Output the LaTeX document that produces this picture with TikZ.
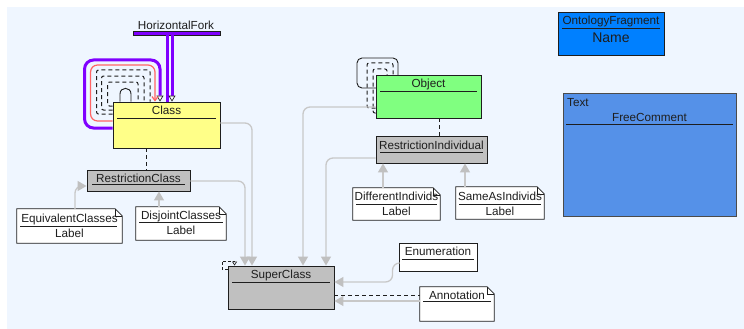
\documentclass[tikz,border=0pt]{standalone}
\usepackage{fontspec}
\setmainfont{Liberation Sans}
\usetikzlibrary{arrows.meta,backgrounds}

\definecolor{canvas}{RGB}{239,246,255}
\definecolor{classyellow}{RGB}{255,255,136}
\definecolor{objgreen}{RGB}{128,255,128}
\definecolor{restrgray}{RGB}{192,192,192}
\definecolor{edgegray}{RGB}{200,200,200}
\definecolor{fragblue}{RGB}{0,128,255}
\definecolor{commentblue}{RGB}{85,145,232}
\definecolor{forkpurple}{RGB}{128,0,255}
\definecolor{loopred}{RGB}{255,100,100}
\definecolor{ink}{RGB}{30,30,30}

\newcommand\dfont{\fontsize{11.7pt}{13pt}\selectfont}
\newcommand\bigfont{\fontsize{14pt}{16pt}\selectfont}

\tikzset{
  umlbox/.style={draw=ink, line width=0.9pt, inner sep=0pt},
  notebox/.style={draw=none, inner sep=0pt},
  lbl/.style={font=\dfont, text=ink, inner sep=0pt},
  hdr/.style={draw=ink, line width=0.8pt},
  conn/.style={draw=edgegray, line width=1.3pt, rounded corners=7pt,
    -{Triangle[width=10pt,length=9pt,color=restrgray]}},
  depline/.style={draw=ink, line width=0.9pt, dash pattern=on 4pt off 3pt},
  loopdash/.style={draw=ink, line width=1pt, dash pattern=on 4pt off 3pt, rounded corners=2pt},
  forkline/.style={draw=forkpurple, line width=3pt},
  opentip/.style={-{Triangle[width=7pt,length=6pt,color=ink,fill=white,line width=0.7pt]}},
}

% note outline with a folded top-right corner
\newcommand\notebody[1]{%
  \draw[ink, line width=0.8pt, fill=white]
    (#1.north west) -- ([xshift=-7pt]#1.north east) -- ([yshift=-7pt]#1.north east)
    -- (#1.south east) -- (#1.south west) -- cycle;
  \draw[ink, line width=0.6pt]
    ([xshift=-7pt]#1.north east) -- ([xshift=-7pt,yshift=-7pt]#1.north east)
    -- ([yshift=-7pt]#1.north east);
}

\begin{document}
\begin{tikzpicture}[x=1pt,y=-1pt]
\useasboundingbox (0,0) rectangle (744,329);

% ---- class boxes ----
\node[umlbox, fill=classyellow, minimum width=107pt, minimum height=46pt] (class) at (166.5,125) {};
\node[lbl] (classT) at (166.5,110) {Class};
\draw[hdr] (117,118) -- (216,118);

\node[umlbox, fill=restrgray, minimum width=103pt, minimum height=21pt] (rc) at (138.5,180.5) {};
\node[lbl] (rcT) at (138.5,178.5) {RestrictionClass};
\draw[hdr] (92,184.5) -- (185,184.5);

\node[umlbox, fill=restrgray, minimum width=106pt, minimum height=43pt] (super) at (281,287.5) {};
\node[lbl] (superT) at (281,275) {SuperClass};
\draw[hdr] (232,282) -- (330,282);

\node[umlbox, fill=objgreen, minimum width=105pt, minimum height=43pt] (object) at (428.5,96.5) {};
\node[lbl] (objectT) at (428.5,84) {Object};
\draw[hdr] (380,91) -- (477,91);

\node[umlbox, fill=restrgray, minimum width=111pt, minimum height=27pt] (ri) at (431.5,149.5) {};
\node[lbl] (riT) at (431.5,145.5) {RestrictionIndividual};
\draw[hdr] (380,152.5) -- (483,152.5);

% ---- notes ----
\node[notebox, minimum width=105pt, minimum height=34pt] (equiv) at (69.5,226) {};
\notebody{equiv}
\node[lbl] (equivT) at (69.5,219.3) {EquivalentClasses};
\draw[hdr] (20,226) -- (117,226);
\node[lbl] (equivL) at (69.5,233.5) {Label};

\node[notebox, minimum width=90pt, minimum height=33pt] (disj) at (181,223.5) {};
\notebody{disj}
\node[lbl] (disjT) at (181,216) {DisjointClasses};
\draw[hdr] (139,222.7) -- (223,222.7);
\node[lbl] (disjL) at (181,230.5) {Label};

\node[notebox, minimum width=87pt, minimum height=32pt] (diff) at (396.5,204) {};
\notebody{diff}
\node[lbl] (diffT) at (396.5,196.7) {DifferentIndivids};
\draw[hdr] (356,204.3) -- (437,204.3);
\node[lbl] (diffL) at (396.5,211.5) {Label};

\node[notebox, minimum width=88pt, minimum height=32pt] (same) at (500,203) {};
\notebody{same}
\node[lbl] (sameT) at (500,196.5) {SameAsIndivids};
\draw[hdr] (459,204) -- (541,204);
\node[lbl] (sameL) at (500,211) {Label};

\node[umlbox, fill=white, minimum width=78pt, minimum height=28pt] (enum) at (438,257) {};
\node[lbl] (enumT) at (438,251.7) {Enumeration};
\draw[hdr] (402,259) -- (474,259);

\node[notebox, minimum width=74pt, minimum height=34pt] (annot) at (457,304) {};
\notebody{annot}
\node[lbl] (annotT) at (457,295.7) {Annotation};
\draw[hdr] (423,301.7) -- (491,301.7);

% ---- fragment name and free comment ----
\node[umlbox, fill=fragblue, minimum width=106pt, minimum height=43pt] (frag) at (611,33.5) {};
\node[lbl] (fragT) at (611,21) {OntologyFragment};
\draw[hdr] (562,28) -- (660,28);
\node[lbl, font=\bigfont] (fragN) at (611,37.5) {Name};

\node[umlbox, fill=commentblue, draw=ink!80, minimum width=173pt, minimum height=123pt] (comment) at (649.5,154.5) {};
\node[lbl, anchor=west] (commentK) at (567,103) {Text};
\node[lbl] (commentT) at (649.5,117) {FreeComment};
\draw[hdr] (566,124.5) -- (733,124.5);

% ---- horizontal fork ----
\node[lbl] (forkT) at (176,25.5) {HorizontalFork};
\node[draw=ink, line width=0.6pt, fill=forkpurple, inner sep=0pt,
      minimum width=87pt, minimum height=4pt] (forkbar) at (176.5,33) {};
\draw[forkline] ([xshift=-9.5pt]forkbar.south) -- ([xshift=-9.5pt]forkbar.south |- class.north);
\draw[forkline, opentip] ([xshift=-4.5pt]forkbar.south) -- ([xshift=-4.5pt]forkbar.south |- class.north);

% ---- generalisation connectors ----
\draw[conn] ([yshift=2pt]class.east) -| ([xshift=-29pt]super.north);
\draw[conn] ([yshift=-0.5pt]rc.east) -| ([xshift=-36pt]super.north);
\draw[conn] ([yshift=-10.5pt]object.west) -| ([xshift=22pt]super.north);
\draw[conn] ([yshift=-8.5pt]ri.west) -| ([xshift=45pt]super.north);
\draw[conn] ([yshift=-6pt]enum.west) -- ++(-6,0) |- ([yshift=5.5pt]super.east);
\draw[conn] ([yshift=3pt]annot.west) -- ([yshift=3pt]annot.west -| super.east);
\draw[conn] ([xshift=5.5pt]equiv.north) |- ([yshift=-5.5pt]rc.west);
\draw[conn] ([xshift=-22pt]disj.north) -- ([xshift=-22pt]disj.north |- rc.south);
\draw[conn] ([xshift=-13.5pt]diff.north) -- ([xshift=-13.5pt]diff.north |- ri.south);
\draw[conn] ([xshift=-35pt]same.north) -- ([xshift=-35pt]same.north |- ri.south);

% ---- dependency connectors ----
\draw[depline] ([xshift=-20.5pt]class.south) -- ([xshift=-20.5pt]class.south |- rc.north);
\draw[depline] ([xshift=10.5pt]object.south) -- ([xshift=10.5pt]object.south |- ri.north);
\draw[depline] ([yshift=-7.5pt]super.east) -- ([yshift=-7.5pt]super.east -| annot.west);

% ---- canvas and self loops, kept behind the boxes ----
\begin{pgfonlayer}{background}
  \fill[white] (0,0) rectangle (744,329);
  \fill[canvas] (7,7) rectangle (744,329);
  % loops on Class
  \draw[forkpurple, line width=3pt, rounded corners=9pt,
        -{Triangle[width=7pt,length=6pt,color=ink,fill=white,line width=0.7pt]}]
    ([yshift=-3pt]class.west) -| ++(-28,-68) -| ([xshift=-6.5pt]class.north);
  \draw[loopred, line width=1.2pt, rounded corners=7pt,
        -{Straight Barb[width=6pt,length=4pt]}]
    ([yshift=4pt]class.west) -| ++(-22,-56) -| ([xshift=-11.5pt]class.north);
  \draw[loopdash] ([yshift=11pt]class.west) -| ++(-16,-44) -| ([xshift=-16.5pt]class.north);
  \draw[loopdash] ([yshift=15pt]class.west) -| ++(-11,-34) -| ([xshift=-22.5pt]class.north);
  \draw[loopdash] ([yshift=19pt]class.west) -| ++(-5,-24) -| ([xshift=-28.5pt]class.north);
  \draw[ink, line width=0.9pt]
    ([xshift=-46.5pt]class.north) -- (120,94)
    .. controls (120,86.5) and (131,86.5) .. (131,94)
    -- ([xshift=-35.5pt]class.north);
  % loops on Object
  \draw[ink, line width=0.9pt, rounded corners=5pt] (357,58) rectangle (398,88);
  \draw[loopdash] ([yshift=-11.5pt]object.west) -| (367,63) -| (393,75);
  \draw[loopdash] ([yshift=-16.5pt]object.west) -| (373,69) -| (387,75);
  % loop on SuperClass
  \draw[ink, line width=0.8pt, dash pattern=on 3pt off 2pt,
        -{Triangle[open,width=5pt,length=4pt,line width=0.6pt]}]
    ([yshift=-4pt]super.north west) -| (222,261) -| ([xshift=7pt]super.north west);
\end{pgfonlayer}
\end{tikzpicture}
\end{document}
